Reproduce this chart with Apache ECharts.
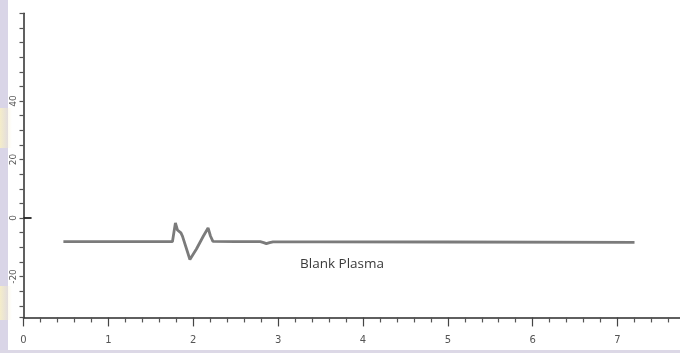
<!DOCTYPE html>
<html>
<head>
<meta charset="utf-8">
<style>
  html, body { margin: 0; padding: 0; background: #ffffff; }
  #chart { width: 680px; height: 353px; }
</style>
<script src="https://cdn.jsdelivr.net/npm/echarts@6/dist/echarts.min.js"></script>
</head>
<body>
<div id="chart"></div>
<script>
// Retention time (min) and detector response for the blank plasma trace
const retentionTime = [0.47, 1.70, 1.755, 1.79, 1.814, 1.855, 1.873, 1.961, 2.038, 2.12, 2.175, 2.203, 2.232, 2.50, 2.79, 2.83, 2.862, 2.90, 2.94, 3.50, 5.00, 7.20];
const response      = [-8.1, -8.1, -8.1, -1.7, -4.1, -5.1, -6.2, -14.2, -10.6, -6.15, -3.4, -6.15, -7.97, -8.1, -8.1, -8.4, -8.75, -8.4, -8.15, -8.15, -8.2, -8.3];

const xTickLabels = [0, 1, 2, 3, 4, 5, 6, 7];
const yTickLabels = [-20, 0, 20, 40];
const traceName = 'Blank Plasma';

const trace = retentionTime.map((t, i) => [t, response[i]]);

const chart = echarts.init(document.getElementById('chart'), null, { renderer: 'canvas' });

// soft yellow glow along the left edge
const glow = {
  type: 'linear', x: 0, y: 0, x2: 1, y2: 0,
  colorStops: [{ offset: 0, color: 'rgba(246,238,200,0.95)' }, { offset: 1, color: 'rgba(246,238,200,0)' }]
};

chart.setOption({
  animation: false,
  backgroundColor: '#ffffff',
  graphic: [
    // pale border strips along the left and bottom edges
    { type: 'rect', left: 0, top: 0, shape: { width: 8, height: 353 }, style: { fill: '#d9d5e7' }, z: -1 },
    { type: 'rect', left: 0, top: 350, shape: { width: 680, height: 3 }, style: { fill: '#dcd8e6' }, z: -1 },
    { type: 'rect', left: 0, top: 108, shape: { width: 12, height: 40 }, style: { fill: glow }, z: -1 },
    { type: 'rect', left: 0, top: 286, shape: { width: 12, height: 34 }, style: { fill: glow }, z: -1 },
    {
      type: 'text', left: 300, top: 257,
      style: { text: traceName, fill: '#3a3a3a', font: '13.5px "Open Sans", sans-serif' }
    }
  ],
  // the time axis runs on past the right edge of the canvas
  grid: { left: 23.5, width: 678.9, top: 13.25, bottom: 35.55, containLabel: false, outerBoundsMode: 'none' },
  xAxis: {
    type: 'value',
    min: 0,
    max: 8,
    minInterval: 1,
    maxInterval: 1,
    splitNumber: 8,
    splitLine: { show: false },
    axisLine: { show: true, onZero: false, lineStyle: { color: '#2b2b2b', width: 1.5 } },
    axisTick: { show: true, length: 9, lineStyle: { color: '#444', width: 1.2 } },
    minorTick: { show: true, splitNumber: 5, length: 5, lineStyle: { color: '#555', width: 1.2 } },
    minorSplitLine: { show: false },
    axisLabel: {
      color: '#555', fontSize: 10, margin: 18, fontFamily: 'DejaVu Sans',
      formatter: v => (xTickLabels.indexOf(v) >= 0 ? String(v) : '')
    }
  },
  yAxis: {
    type: 'value',
    min: -34,
    max: 70,
    minInterval: 5,
    maxInterval: 5,
    splitNumber: 21,
    splitLine: { show: false },
    axisLine: { show: true, onZero: false, lineStyle: { color: '#2b2b2b', width: 1.5 } },
    axisTick: { show: true, length: 4, lineStyle: { color: '#555', width: 1.2 } },
    axisLabel: {
      color: '#555', fontSize: 9, margin: 5, rotate: 90, fontFamily: 'DejaVu Sans',
      formatter: v => (yTickLabels.indexOf(v) >= 0 ? String(v) : '')
    }
  },
  series: [
    {
      type: 'line',
      data: trace,
      showSymbol: false,
      smooth: false,
      lineStyle: { color: '#7b7b7b', width: 2.8 },
      markLine: {
        silent: true,
        symbol: 'none',
        label: { show: false },
        lineStyle: { color: '#222', width: 1.8, type: 'solid' },
        data: [[{ coord: [0, 0] }, { coord: [0.095, 0] }]]
      }
    }
  ]
});
</script>
</body>
</html>
